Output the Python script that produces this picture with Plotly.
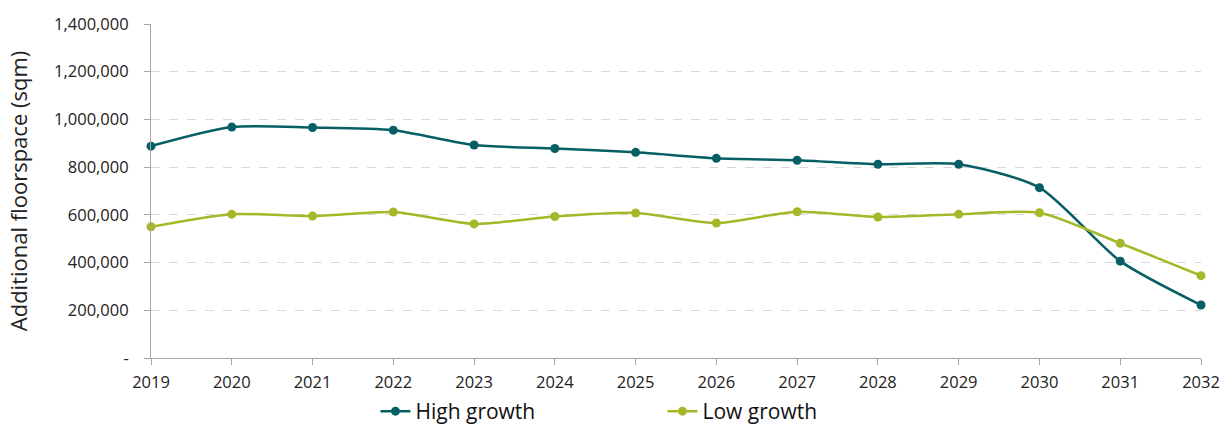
import plotly.graph_objects as go

years = [2019, 2020, 2021, 2022, 2023, 2024, 2025, 2026, 2027, 2028, 2029, 2030, 2031, 2032]
high_growth = [888000, 968000, 966000, 955000, 893000, 878000, 862000, 837000, 829000, 812000, 812000, 714000, 406000, 222000]
low_growth = [550000, 603000, 595000, 612000, 562000, 593000, 608000, 566000, 613000, 591000, 603000, 609000, 481000, 345000]
y_ticks = [0, 200000, 400000, 600000, 800000, 1000000, 1200000, 1400000]
y_tick_labels = ["-", "200,000", "400,000", "600,000", "800,000", "1,000,000", "1,200,000", "1,400,000"]

FONT = "Open Sans, sans-serif"
TEAL = "#075f66"
LIME = "#a6b82a"

fig = go.Figure()
fig.add_trace(go.Scatter(x=years, y=high_growth, name="High growth", mode="lines+markers",
                         line=dict(color=TEAL, width=2.5, shape="spline", smoothing=0.7),
                         marker=dict(size=9, color=TEAL), cliponaxis=False))
fig.add_trace(go.Scatter(x=years, y=low_growth, name="Low growth", mode="lines+markers",
                         line=dict(color=LIME, width=2.5, shape="spline", smoothing=0.7),
                         marker=dict(size=9, color=LIME), cliponaxis=False))

fig.update_layout(
    width=1223, height=432,
    margin=dict(l=151, r=22, t=24, b=74, autoexpand=False),
    plot_bgcolor="white", paper_bgcolor="white",
    font=dict(family=FONT, size=15, color="#222"),
    legend=dict(orientation="h", xref="container", x=0.307, xanchor="left",
                yref="container", y=-0.012, yanchor="bottom",
                font=dict(size=21, color="#111"), entrywidth=242, itemwidth=30,
                traceorder="normal"),
    xaxis=dict(range=[2019, 2032], tickvals=years, ticktext=[str(y) for y in years],
               showgrid=False, showline=True, linecolor="#a6a6a6", linewidth=1,
               ticks="outside", ticklen=6, tickcolor="#a6a6a6", zeroline=False,
               ticklabelstandoff=3,
               tickfont=dict(size=16.5, color="#222")),
    yaxis=dict(range=[0, 1400000], tickvals=y_ticks, ticktext=y_tick_labels,
               showgrid=True, gridcolor="#d9d9d9", griddash="dash", gridwidth=1,
               showline=True, linecolor="#a6a6a6", linewidth=1,
               ticks="outside", ticklen=6, tickcolor="#a6a6a6", zeroline=False,
               ticklabelstandoff=12,
               tickfont=dict(size=16.5, color="#222")),
)
fig.update_yaxes(title=dict(text="Additional floorspace (sqm)", font=dict(size=22, color="#222"), standoff=20))

fig.write_html("out.html")
